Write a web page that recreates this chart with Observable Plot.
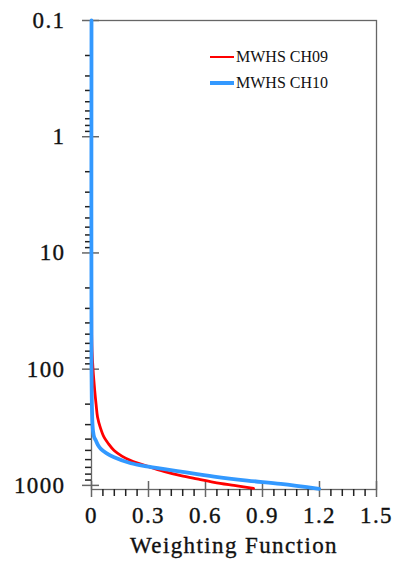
<!DOCTYPE html>
<html>
<head>
<meta charset="utf-8">
<script src="https://cdn.jsdelivr.net/npm/d3@7"></script>
<script src="https://cdn.jsdelivr.net/npm/@observablehq/plot@0.6"></script>
<style>
  body { margin: 0; background: #fff; }
  #wrap { position: relative; width: 398px; height: 562px; }
  #wrap svg g[aria-label$="tick label"] text,
  #wrap svg g[aria-label$="label"] text { stroke: #111; stroke-width: 0.35px; }
  .legend { position: absolute; left: 210px; top: 44px; font-family: "Liberation Serif", "Times New Roman", serif; font-size: 16px; color: #111; }
  .legend .row { display: flex; align-items: center; height: 26px; }
  .legend .swatch { width: 24px; margin-right: 2px; }
</style>
</head>
<body>
<div id="wrap"></div>
<script>
// Weighting functions of MWHS channels 9 and 10 against pressure (hPa)
const ch09Pressure = [0.1, 10, 50, 70, 100, 153, 200, 259, 320, 385, 440, 502, 560, 612, 689, 760, 824, 880, 940, 1000, 1060];
const ch09Weight   = [0, 0, 0.001, 0.003, 0.008, 0.017, 0.024, 0.032, 0.047, 0.066, 0.09, 0.119, 0.16, 0.207, 0.30, 0.385, 0.47, 0.555, 0.645, 0.75, 0.853];

const ch10Pressure = [0.1, 100, 200, 294, 340, 385, 411, 450, 485, 530, 573, 645, 689, 761, 840, 909, 970, 1070];
const ch10Weight   = [0, 0, 0.002, 0.005, 0.008, 0.014, 0.023, 0.034, 0.049, 0.08, 0.119, 0.207, 0.30, 0.47, 0.645, 0.82, 0.996, 1.198];

const seriesNames = ["MWHS CH09", "MWHS CH10"];
const seriesColors = ["#ff0000", "#3399ff"];
const seriesWidths = [2.8, 3.8];

// Axis ticks
const xTicks = [0, 0.3, 0.6, 0.9, 1.2, 1.5];
const xMinorTicks = d3.range(26).map(i => +(i * 0.06).toFixed(2)).filter(v => !xTicks.some(t => Math.abs(t - v) < 1e-9));
const yTicks = [0.1, 1, 10, 100, 1000];
const yMinorTicks = yTicks.slice(0, 4).flatMap(d => d3.range(2, 10).map(k => +(k * d).toPrecision(3)));

const ch09 = ch09Pressure.map((p, i) => ({p, w: ch09Weight[i]}));
const ch10 = ch10Pressure.map((p, i) => ({p, w: ch10Weight[i]}));

const axisColor = "#666";
const blank = () => "";
const serif = "Liberation Serif";

const chart = Plot.plot({
  width: 398,
  height: 562,
  marginLeft: 91,
  marginRight: 22,
  marginTop: 20,
  marginBottom: 73,
  style: {fontFamily: serif, fontSize: "23px", letterSpacing: "1.4px", color: "#111", background: "#fff"},
  x: {domain: [0, 1.5]},
  y: {type: "log", domain: [0.1, 1085], reverse: true},
  marks: [
    Plot.frame({stroke: axisColor, strokeWidth: 1.3}),
    // y axis: minor ticks outward, major ticks across the frame, labels
    Plot.axisY(yMinorTicks, {tickSize: 6, tickFormat: blank, stroke: "#222", strokeWidth: 1.5, label: null}),
    Plot.axisY(yTicks, {tickSize: 17, dx: 8, tickFormat: blank, stroke: axisColor, strokeWidth: 1.5, label: null}),
    Plot.axisY(yTicks, {tickSize: 0, tickPadding: 26, tickFormat: d => String(d), fontFamily: serif, label: null}),
    // x axis
    Plot.axisX(xMinorTicks, {tickSize: 7, tickFormat: blank, stroke: "#222", strokeWidth: 1.5, label: null}),
    Plot.axisX(xTicks, {tickSize: 16, dy: -8, tickFormat: blank, stroke: axisColor, strokeWidth: 1.5, label: null}),
    Plot.axisX(xTicks, {tickSize: 0, tickPadding: 17, tickFormat: d => d === 0 ? "0" : d.toFixed(1), fontFamily: serif,
      label: "Weighting Function", labelAnchor: "center", labelOffset: 63, labelArrow: "none"}),
    // weighting function curves
    Plot.line(ch09, {x: "w", y: "p", stroke: seriesColors[0], strokeWidth: seriesWidths[0], curve: "catmull-rom"}),
    Plot.line(ch10, {x: "w", y: "p", stroke: seriesColors[1], strokeWidth: seriesWidths[1], curve: "catmull-rom"})
  ]
});

const wrap = document.getElementById("wrap");
wrap.appendChild(chart);

// legend inside the upper right of the plot area
const legend = document.createElement("div");
legend.className = "legend";
seriesNames.forEach((name, i) => {
  const row = document.createElement("div");
  row.className = "row";
  const sw = document.createElement("div");
  sw.className = "swatch";
  sw.style.height = (seriesWidths[i] - 0.5) + "px";
  sw.style.background = seriesColors[i];
  const label = document.createElement("span");
  label.textContent = name;
  row.appendChild(sw);
  row.appendChild(label);
  legend.appendChild(row);
});
wrap.appendChild(legend);
</script>
</body>
</html>
